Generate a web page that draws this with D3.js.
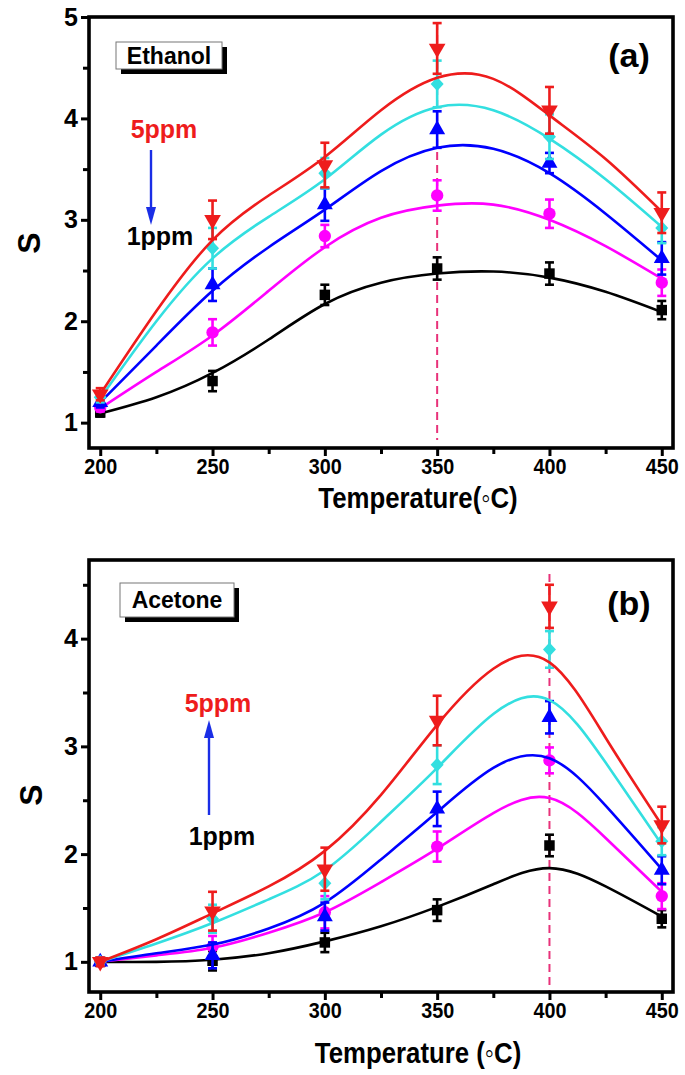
<!DOCTYPE html>
<html><head><meta charset="utf-8">
<script src="https://cdn.jsdelivr.net/npm/d3@7"></script>
<style>
body{margin:0;background:#fff;}
svg text{font-family:"Liberation Sans",Arial,sans-serif;font-weight:bold;}
</style></head>
<body><svg id="c" width="685" height="1075"></svg>
<script>
// ---------------- DATA ----------------
const temps = [200, 250, 300, 350, 400, 450];
const fitTemps = [200, 225, 250, 275, 300, 325, 350, 375, 400, 425, 450];
const xTicks = [200, 250, 300, 350, 400, 450];
const yTicksA = [1, 2, 3, 4, 5];
const yTicksB = [1, 2, 3, 4];
const concLabels = ["1ppm", "2ppm", "3ppm", "4ppm", "5ppm"];

// Panel (a) Ethanol: measured points
const ethanol1 = [1.10, 1.41, 2.26, 2.52, 2.47, 2.11];
const ethanol2 = [1.15, 1.89, 2.84, 3.24, 3.06, 2.38];
const ethanol3 = [1.20, 2.36, 3.15, 3.89, 3.56, 2.62];
const ethanol4 = [1.25, 2.72, 3.46, 4.34, 3.82, 2.92];
const ethanol5 = [1.28, 3.00, 3.54, 4.69, 4.08, 3.07];
const ethanolErr1 = [0.04, 0.10, 0.10, 0.11, 0.11, 0.09];
const ethanolErr2 = [0.04, 0.13, 0.11, 0.15, 0.14, 0.13];
const ethanolErr3 = [0.05, 0.16, 0.16, 0.18, 0.10, 0.16];
const ethanolErr4 = [0.05, 0.20, 0.15, 0.23, 0.22, 0.15];
const ethanolErr5 = [0.06, 0.19, 0.22, 0.25, 0.23, 0.20];
// Panel (a) fitted curves
const ethanolFit1 = [1.09, 1.25, 1.49, 1.82, 2.17, 2.38, 2.47, 2.49, 2.43, 2.29, 2.09];
const ethanolFit2 = [1.14, 1.50, 1.86, 2.30, 2.73, 3.02, 3.14, 3.15, 3.00, 2.74, 2.42];
const ethanolFit3 = [1.20, 1.76, 2.30, 2.73, 3.10, 3.48, 3.71, 3.70, 3.46, 3.06, 2.60];
const ethanolFit4 = [1.24, 2.00, 2.62, 3.03, 3.40, 3.84, 4.11, 4.08, 3.80, 3.40, 2.93];
const ethanolFit5 = [1.28, 2.10, 2.80, 3.24, 3.62, 4.08, 4.40, 4.39, 4.03, 3.60, 3.08];

// Panel (b) Acetone: measured points
const acetone1 = [1.00, 1.01, 1.18, 1.48, 2.08, 1.40];
const acetone2 = [1.00, 1.14, 1.46, 2.07, 2.87, 1.61];
const acetone3 = [1.00, 1.06, 1.42, 2.42, 3.27, 1.85];
const acetone4 = [1.00, 1.40, 1.73, 2.83, 3.90, 2.12];
const acetone5 = [1.00, 1.47, 1.86, 3.24, 4.30, 2.27];
const acetoneErr1 = [0.03, 0.09, 0.09, 0.10, 0.10, 0.08];
const acetoneErr2 = [0.03, 0.10, 0.15, 0.14, 0.12, 0.12];
const acetoneErr3 = [0.03, 0.12, 0.13, 0.16, 0.15, 0.13];
const acetoneErr4 = [0.03, 0.13, 0.15, 0.18, 0.17, 0.13];
const acetoneErr5 = [0.04, 0.18, 0.20, 0.23, 0.20, 0.17];
// Panel (b) fitted curves
const acetoneFit1 = [1.00, 1.00, 1.02, 1.08, 1.19, 1.33, 1.51, 1.72, 1.87, 1.70, 1.42];
const acetoneFit2 = [1.00, 1.06, 1.13, 1.27, 1.46, 1.74, 2.05, 2.38, 2.52, 2.15, 1.65];
const acetoneFit3 = [1.00, 1.08, 1.16, 1.31, 1.55, 1.95, 2.39, 2.80, 2.89, 2.45, 1.86];
const acetoneFit4 = [1.00, 1.17, 1.36, 1.58, 1.85, 2.30, 2.80, 3.30, 3.43, 2.85, 2.09];
const acetoneFit5 = [1.00, 1.21, 1.45, 1.70, 2.03, 2.55, 3.20, 3.72, 3.78, 3.08, 2.27];

// ---------------- STYLE ----------------
const colors = ["#000000", "#ff00ff", "#0000ff", "#33dfe0", "#ee1c1c"];
const shapes = ["square", "circle", "triangleUp", "diamond", "triangleDown"];

const svg = d3.select("#c");

function symbolPath(shape) {
  if (shape === "square") return d3.symbol(d3.symbolSquare, 110)();
  if (shape === "circle") return d3.symbol(d3.symbolCircle, 120)();
  if (shape === "triangleUp") return d3.symbol(d3.symbolTriangle, 110)();
  if (shape === "triangleDown") return d3.symbol(d3.symbolTriangle, 120)();
  if (shape === "diamond") return "M0,-7L6.5,0L0,7L-6.5,0Z";
}

function drawPanel(cfg) {
  const x = d3.scaleLinear().domain([195, 455]).range([89, 673]);
  const y = d3.scaleLinear().domain(cfg.yDomain).range([cfg.bottom, cfg.top]);
  const g = svg.append("g");

  g.append("line")
    .attr("x1", x(cfg.dashX)).attr("x2", x(cfg.dashX))
    .attr("y1", y(cfg.dashTop)).attr("y2", y(cfg.dashBottom))
    .attr("stroke", "#e8327a").attr("stroke-width", 2)
    .attr("stroke-dasharray", "8,5");

  const line = d3.line().x((d, i) => x(fitTemps[i])).y(d => y(d)).curve(d3.curveNatural);

  cfg.series.forEach((s, k) => {
    const col = colors[k];
    const sg = g.append("g");
    sg.append("path").attr("d", line(s.fit)).attr("fill", "none")
      .attr("stroke", col).attr("stroke-width", 2.6);
    s.vals.forEach((v, i) => {
      const cx = x(temps[i]);
      const e = s.err[i];
      const eg = sg.append("g").attr("stroke", col).attr("stroke-width", 2.6);
      eg.append("line").attr("x1", cx).attr("x2", cx).attr("y1", y(v - e)).attr("y2", y(v + e));
      eg.append("line").attr("x1", cx - 4.5).attr("x2", cx + 4.5).attr("y1", y(v - e)).attr("y2", y(v - e));
      eg.append("line").attr("x1", cx - 4.5).attr("x2", cx + 4.5).attr("y1", y(v + e)).attr("y2", y(v + e));
    });
    s.vals.forEach((v, i) => {
      sg.append("path").attr("d", symbolPath(shapes[k]))
        .attr("transform", `translate(${x(temps[i])},${y(v)})` + (shapes[k] === "triangleDown" ? " rotate(180)" : ""))
        .attr("fill", col);
    });
  });

  g.append("rect").attr("x", 89).attr("y", cfg.top).attr("width", 673 - 89).attr("height", cfg.bottom - cfg.top)
    .attr("fill", "none").attr("stroke", "#000").attr("stroke-width", 3.6);

  const xAxis = d3.axisBottom(x).tickValues(xTicks).tickSize(8).tickSizeOuter(0).tickPadding(2).tickFormat(d3.format("d"));
  const xa = g.append("g").attr("transform", `translate(0,${cfg.bottom})`).call(xAxis);
  xa.select(".domain").remove();
  xa.selectAll("line").attr("stroke-width", 3);
  xa.selectAll("text").attr("font-size", 22).attr("fill", "#000").attr("transform", "scale(0.9,1)");
  const xMinor = d3.axisBottom(x).tickValues([225, 275, 325, 375, 425]).tickSize(6).tickFormat("");
  const xm = g.append("g").attr("transform", `translate(0,${cfg.bottom})`).call(xMinor);
  xm.select(".domain").remove();
  xm.selectAll("line").attr("stroke-width", 3);

  const yAxis = d3.axisLeft(y).tickValues(cfg.yTicks).tickSize(8).tickSizeOuter(0).tickPadding(3).tickFormat(d3.format("d"));
  const ya = g.append("g").attr("transform", `translate(89,0)`).call(yAxis);
  ya.select(".domain").remove();
  ya.selectAll("line").attr("stroke-width", 3);
  ya.selectAll("text").attr("font-size", 25).attr("fill", "#000");
  const yMinor = d3.axisLeft(y).tickValues(cfg.yMinor).tickSize(6).tickFormat("");
  const ym = g.append("g").attr("transform", `translate(89,0)`).call(yMinor);
  ym.select(".domain").remove();
  ym.selectAll("line").attr("stroke-width", 3);

  g.append("text").attr("transform", `translate(418,${cfg.xTitleY}) scale(0.86,1)`).attr("text-anchor", "middle")
    .attr("font-size", 30).text(cfg.xTitle);
  g.append("text").attr("transform", `translate(${cfg.sX},${cfg.sY}) rotate(-90)`)
    .attr("text-anchor", "middle").attr("font-size", 32).text("S");

  const b = cfg.box;
  g.append("rect").attr("x", b.x + 5).attr("y", b.y + 5).attr("width", b.w).attr("height", b.h).attr("fill", "#000");
  g.append("rect").attr("x", b.x).attr("y", b.y).attr("width", b.w).attr("height", b.h)
    .attr("fill", "#fff").attr("stroke", "#777").attr("stroke-width", 1);
  g.append("text").attr("x", b.x + b.w / 2).attr("y", b.y + b.h / 2 + 8).attr("text-anchor", "middle")
    .attr("font-size", 23).text(cfg.gas);

  g.append("text").attr("x", 629).attr("y", cfg.letterY).attr("text-anchor", "middle")
    .attr("font-size", 34).text(cfg.letter);

  const a = cfg.arrow;
  g.append("text").attr("x", a.topTextX).attr("y", a.topTextY).attr("text-anchor", "middle")
    .attr("font-size", 25).attr("fill", "#ee1c1c").text(a.topText);
  g.append("text").attr("x", a.botTextX).attr("y", a.botTextY).attr("text-anchor", "middle")
    .attr("font-size", 25).attr("fill", "#000").text(a.botText);
  const dir = a.y2 > a.y1 ? 1 : -1;
  g.append("line").attr("x1", a.x).attr("x2", a.x).attr("y1", a.y1).attr("y2", a.y2 - dir * 14)
    .attr("stroke", "#1a2ee6").attr("stroke-width", 2.4);
  g.append("path").attr("d", `M${a.x - 5},${a.y2 - dir * 18} L${a.x + 5},${a.y2 - dir * 18} L${a.x},${a.y2} Z`)
    .attr("fill", "#1a2ee6");
}

function mk(v, e, f) { return v.map((_, k) => ({ vals: v[k], err: e[k], fit: f[k] })); }

drawPanel({
  top: 17, bottom: 448, yDomain: [0.75, 5], yTicks: yTicksA, yMinor: [1.5, 2.5, 3.5, 4.5],
  dashX: 350, dashTop: 4.95, dashBottom: 0.83,
  series: mk([ethanol1, ethanol2, ethanol3, ethanol4, ethanol5],
             [ethanolErr1, ethanolErr2, ethanolErr3, ethanolErr4, ethanolErr5],
             [ethanolFit1, ethanolFit2, ethanolFit3, ethanolFit4, ethanolFit5]),
  xTitle: "Temperature(◦C)", xTitleY: 508, sX: 40, sY: 243,
  gas: "Ethanol", box: { x: 116, y: 42, w: 106, h: 27 }, letter: "(a)", letterY: 67,
  arrow: { x: 151, y1: 150, y2: 225, topText: "5ppm", topTextX: 164, topTextY: 138, botText: "1ppm", botTextX: 160, botTextY: 245 }
});

drawPanel({
  top: 560, bottom: 992, yDomain: [0.72, 4.73], yTicks: yTicksB, yMinor: [1.5, 2.5, 3.5, 4.5],
  dashX: 400, dashTop: 4.6, dashBottom: 0.72,
  series: mk([acetone1, acetone2, acetone3, acetone4, acetone5],
             [acetoneErr1, acetoneErr2, acetoneErr3, acetoneErr4, acetoneErr5],
             [acetoneFit1, acetoneFit2, acetoneFit3, acetoneFit4, acetoneFit5]),
  xTitle: "Temperature (◦C)", xTitleY: 1063, sX: 42, sY: 795,
  gas: "Acetone", box: { x: 120, y: 583, w: 114, h: 34 }, letter: "(b)", letterY: 615,
  arrow: { x: 209, y1: 815, y2: 720, topText: "5ppm", topTextX: 218, topTextY: 712, botText: "1ppm", botTextX: 222, botTextY: 845 }
});
</script></body></html>
